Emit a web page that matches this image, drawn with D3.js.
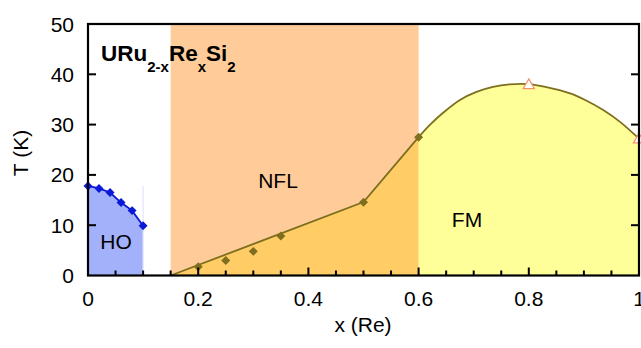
<!DOCTYPE html>
<html><head><meta charset="utf-8">
<script src="https://cdn.jsdelivr.net/npm/d3@7"></script>
<style>body{margin:0;background:#fff}svg{display:block;font-family:"Liberation Sans",Arial,sans-serif}</style>
</head><body><svg id="c" width="641" height="348"></svg>
<script>
// Data
const hoX = [0, 0.02, 0.04, 0.06, 0.08, 0.10];
const hoT = [17.8, 17.3, 16.5, 14.5, 12.9, 9.9];
const nflX = [0.20, 0.25, 0.30, 0.35, 0.50, 0.60];
const nflT = [1.75, 3.0, 4.8, 7.85, 14.55, 27.5];
const boundX = [0.15, 0.50, 0.60];
const boundT = [0, 14.6, 27.5];
const fmCurveX = [0.60, 0.62, 0.645, 0.675, 0.705, 0.735, 0.765, 0.80, 0.83, 0.875, 0.905, 0.935, 0.965, 1.00];
const fmCurveT = [27.5, 29.9, 32.4, 34.9, 36.5, 37.5, 38.0, 38.05, 37.5, 36.2, 34.75, 32.9, 30.6, 27.2];
const fmX = [0.80, 1.00];
const fmT = [38.0, 27.2];
const nflRegion = [0.15, 0.60];
const xTicks = [0, 0.2, 0.4, 0.6, 0.8, 1];
const xTickLabels = ["0", "0.2", "0.4", "0.6", "0.8", "1"];
const xMinor = d3.range(0.05, 1.0, 0.05);
const yTicks = [0, 10, 20, 30, 40, 50];

const svg = d3.select("#c");
const L = 88, R = 639, T = 24, B = 275.5;
const x = d3.scaleLinear().domain([0, 1]).range([L, R]);
const y = d3.scaleLinear().domain([0, 50]).range([B, T]);

// NFL rectangle
svg.append("rect").attr("x", x(nflRegion[0])).attr("y", y(50))
  .attr("width", x(nflRegion[1]) - x(nflRegion[0])).attr("height", y(0) - y(50))
  .attr("fill", "#ffcc99");

// orange area under boundary
const bpts = boundX.map((d, i) => [d, boundT[i]]);
svg.append("path")
  .attr("d", d3.area().x(d => x(d[0])).y0(y(0)).y1(d => y(d[1]))(bpts))
  .attr("fill", "#ffcc66");

// FM area
const fpts = fmCurveX.map((d, i) => [d, fmCurveT[i]]);
const curve = d3.curveCatmullRom.alpha(0.5);
svg.append("path")
  .attr("d", d3.area().x(d => x(d[0])).y0(y(0)).y1(d => y(d[1])).curve(curve)(fpts))
  .attr("fill", "#ffff99");

// HO area
const hpts = hoX.map((d, i) => [d, hoT[i]]);
svg.append("path")
  .attr("d", d3.area().x(d => x(d[0])).y0(y(0)).y1(d => y(d[1]))(hpts))
  .attr("fill", "#a3b1fb");
svg.append("line").attr("x1", x(0.1)).attr("x2", x(0.1)).attr("y1", y(17.8)).attr("y2", y(0))
  .attr("stroke", "#e2e6ff").attr("stroke-width", 1.2);

// lines
svg.append("path").attr("d", d3.line().x(d => x(d[0])).y(d => y(d[1]))(bpts))
  .attr("fill", "none").attr("stroke", "#7d6f1e").attr("stroke-width", 1.8);
svg.append("path").attr("d", d3.line().x(d => x(d[0])).y(d => y(d[1])).curve(curve)(fpts))
  .attr("fill", "none").attr("stroke", "#7d6f1e").attr("stroke-width", 1.8);
svg.append("path").attr("d", d3.line().x(d => x(d[0])).y(d => y(d[1]))(hpts))
  .attr("fill", "none").attr("stroke", "#0a18d8").attr("stroke-width", 1.8);

const diamond = d3.symbol().type(d3.symbolSquare).size(40);
svg.selectAll(".ho").data(hpts).enter().append("path")
  .attr("d", diamond).attr("transform", d => `translate(${x(d[0])},${y(d[1])}) rotate(45)`)
  .attr("fill", "#0a18d8");
const npts = nflX.map((d, i) => [d, nflT[i]]);
svg.selectAll(".nf").data(npts).enter().append("path")
  .attr("d", diamond).attr("transform", d => `translate(${x(d[0])},${y(d[1])}) rotate(45)`)
  .attr("fill", "#7d6f1e");
const tri = d3.symbol().type(d3.symbolTriangle).size(55);
svg.selectAll(".fm").data(fmX.map((d, i) => [d, fmT[i]])).enter().append("path")
  .attr("d", tri).attr("transform", d => `translate(${x(d[0])},${y(d[1]) + 1})`)
  .attr("fill", "#fff").attr("stroke", "#f4916e").attr("stroke-width", 1.2);

// frame
svg.append("rect").attr("x", L).attr("y", T).attr("width", R - L).attr("height", B - T)
  .attr("fill", "none").attr("stroke", "#000").attr("stroke-width", 2.2);

// ticks
const tk = svg.append("g").attr("stroke", "#000").attr("stroke-width", 2);
xTicks.forEach(v => tk.append("line").attr("x1", x(v)).attr("x2", x(v)).attr("y1", B).attr("y2", B - 8));
xMinor.forEach(v => { if (Math.abs(v * 5 - Math.round(v * 5)) > 1e-6) tk.append("line").attr("x1", x(v)).attr("x2", x(v)).attr("y1", B).attr("y2", B - 5); });
yTicks.slice(1, -1).forEach(v => {
  tk.append("line").attr("x1", L).attr("x2", L + 8).attr("y1", y(v)).attr("y2", y(v));
  tk.append("line").attr("x1", R).attr("x2", R - 8).attr("y1", y(v)).attr("y2", y(v));
});

// tick labels
svg.selectAll(".yl").data(yTicks).enter().append("text")
  .attr("x", 74).attr("y", d => y(d) + 7.5).attr("text-anchor", "end")
  .attr("font-size", 21).text(d => d);
svg.selectAll(".xl").data(xTicks).enter().append("text")
  .attr("x", d => x(d)).attr("y", 306).attr("text-anchor", "middle")
  .attr("font-size", 21).text((d, i) => xTickLabels[i]);

// axis titles
svg.append("text").attr("x", 363).attr("y", 332).attr("text-anchor", "middle").attr("font-size", 21).text("x (Re)");
svg.append("text").attr("transform", "translate(28,153) rotate(-90)").attr("text-anchor", "middle").attr("font-size", 21).text("T (K)");

// region labels
svg.append("text").attr("x", 116).attr("y", 249).attr("text-anchor", "middle").attr("font-size", 21).text("HO");
svg.append("text").attr("x", 278).attr("y", 188).attr("text-anchor", "middle").attr("font-size", 21).text("NFL");
svg.append("text").attr("x", 467).attr("y", 227).attr("text-anchor", "middle").attr("font-size", 21).text("FM");

// title
const t = svg.append("text").attr("x", 101).attr("y", 61).attr("font-weight", "bold").attr("font-size", 22.5);
t.append("tspan").text("URu");
t.append("tspan").attr("font-size", 15).attr("dy", 11).text("2-x");
t.append("tspan").attr("dy", -11).text("Re");
t.append("tspan").attr("font-size", 15).attr("dy", 11).text("x");
t.append("tspan").attr("dy", -11).text("Si");
t.append("tspan").attr("font-size", 15).attr("dy", 11).text("2");
</script></body></html>
